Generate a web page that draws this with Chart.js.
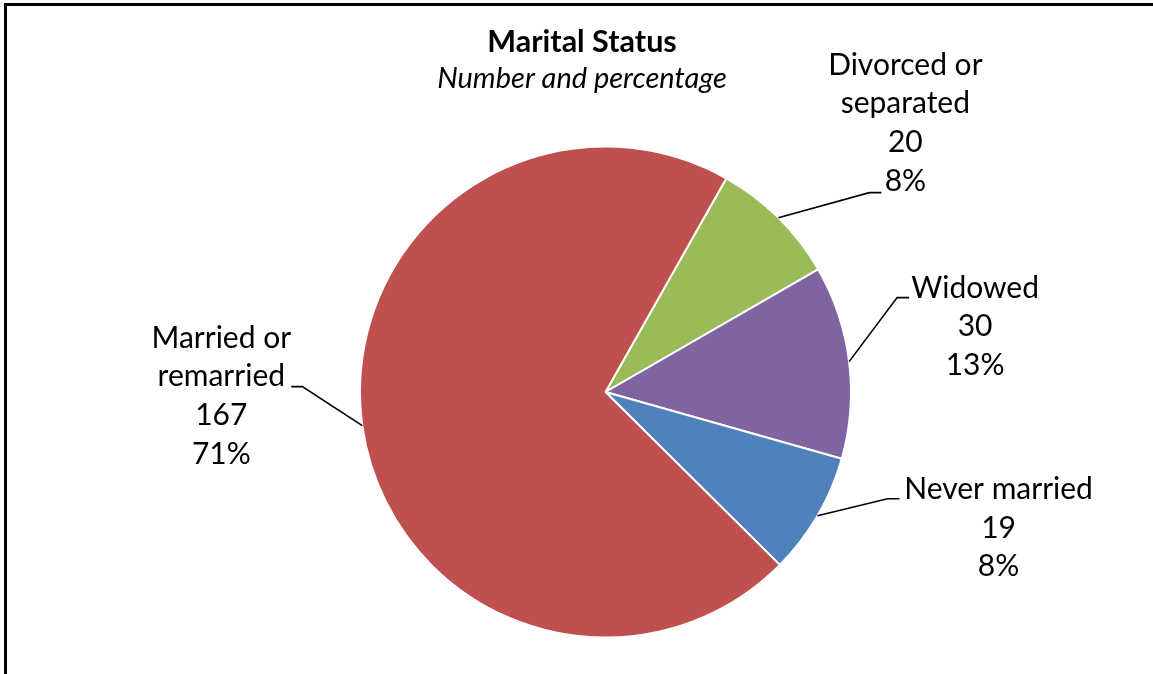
<!DOCTYPE html>
<html>
<head>
<meta charset="utf-8">
<script src="https://cdn.jsdelivr.net/npm/chart.js@4"></script>
<style>
html, body { margin: 0; padding: 0; background: #fff; overflow: hidden; }
#frame { position: absolute; left: 4px; top: 3px; width: 1200px; height: 720px; border-left: 3px solid #000; border-top: 3px solid #000; }
#wrap { position: absolute; left: 0; top: 0; width: 1153px; height: 674px; }
</style>
</head>
<body>
<div id="frame"></div>
<div id="wrap"><canvas id="chart" width="1153" height="674"></canvas></div>
<script>
// data
const categories = [["Divorced or", "separated"], ["Widowed"], ["Never married"], ["Married or", "remarried"]];
const counts = [20, 30, 19, 167];
const sliceColors = ["#9BBB59", "#8064A2", "#4F81BD", "#C0504D"];
const chartTitle = "Marital Status";
const chartSubtitle = "Number and percentage";

// leader line per slice: elbow offset from the arc edge, horizontal run,
// then text centre x / first baseline relative to the end of the run
const leaders = [
	{ dx: 91, dy: -25, run: 12, tx: 24, ty: -118 },
	{ dx: 48, dy: -64, run: 12, tx: 66, ty: 0 },
	{ dx: 70, dy: -17, run: 12, tx: 99, ty: 0 },
	{ dx: -60, dy: -39, run: -11, tx: -70, ty: -39 }
];

const labelFont = "30px Lato";
const lineStep = 38.8;

const total = counts.reduce((a, b) => a + b, 0);

var outsideLabels = {
	id: 'outsideLabels',
	afterDatasetsDraw(chart) {
		const ctx = chart.ctx;
		const arcs = chart.getDatasetMeta(0).data;
		ctx.save();

		// title + subtitle
		ctx.fillStyle = '#000';
		ctx.textAlign = 'center';
		ctx.textBaseline = 'alphabetic';
		ctx.font = "bold 30.5px Lato";
		ctx.fillText(chartTitle, 582, 52);
		ctx.font = "italic 29px Lato";
		ctx.fillText(chartSubtitle, 582, 88);

		arcs.forEach((arc, i) => {
			const p = arc.getProps(['x', 'y', 'startAngle', 'endAngle', 'outerRadius'], true);
			const mid = (p.startAngle + p.endAngle) / 2;
			const ex = p.x + Math.cos(mid) * p.outerRadius;
			const ey = p.y + Math.sin(mid) * p.outerRadius;
			const L = leaders[i];
			const bx = ex + L.dx, by = ey + L.dy;
			const hx = bx + L.run;

			ctx.strokeStyle = '#000';
			ctx.lineWidth = 1.6;
			ctx.beginPath();
			ctx.moveTo(ex, ey);
			ctx.lineTo(bx, by);
			ctx.lineTo(hx, by);
			ctx.stroke();

			const lines = categories[i].concat([String(counts[i]), Math.round(counts[i] / total * 100) + '%']);
			ctx.font = labelFont;
			ctx.textAlign = 'center';
			lines.forEach((t, k) => {
				ctx.fillText(t, hx + L.tx, by + L.ty + k * lineStep);
			});
		});
		ctx.restore();
	}
};

new Chart(document.getElementById('chart'), {
	type: 'pie',
	data: {
		labels: categories.map(c => c.join(' ')),
		datasets: [{
			data: counts,
			backgroundColor: sliceColors,
			borderColor: '#ffffff',
			borderWidth: 2
		}]
	},
	options: {
		responsive: false,
		animation: false,
		devicePixelRatio: 1,
		rotation: 29.5,
		layout: { padding: { left: 359, right: 301, top: 145.5, bottom: 35.5 } },
		plugins: {
			legend: { display: false },
			tooltip: { enabled: false }
		}
	},
	plugins: [outsideLabels]
});
</script>
</body>
</html>
